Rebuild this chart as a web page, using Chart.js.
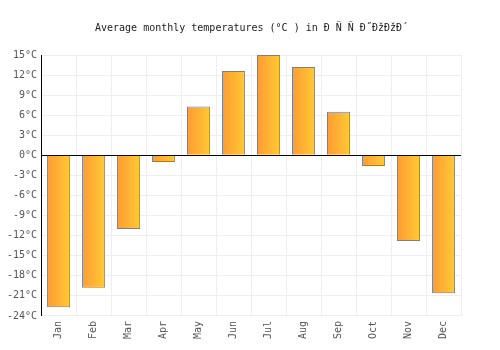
<!DOCTYPE html>
<html><head><meta charset="utf-8">
<script src="https://cdn.jsdelivr.net/npm/chart.js@4"></script>
<style>html,body{margin:0;padding:0;background:#fff}#wrap{width:500px;height:350px}</style>
</head><body><div id="wrap"><canvas id="c" width="500" height="350"></canvas></div>
<script>
const months = ["Jan","Feb","Mar","Apr","May","Jun","Jul","Aug","Sep","Oct","Nov","Dec"];
const temps = [-22.7,-19.8,-11.0,-1.0,7.3,12.6,15.0,13.2,6.5,-1.6,-12.8,-20.6];
const yMin = -24, yMax = 15, yStep = 3;
const titleText = "Average monthly temperatures (°C ) in Ð Ñ Ñ Ð˝ÐžÐžÐ´";
const BAR_PCT = 0.66;

function barGradient(ctx) {
  const chart = ctx.chart;
  const xs = chart.scales && chart.scales.x;
  if (!xs || ctx.dataIndex === undefined || !chart.chartArea) return '#ffb333';
  const cx = xs.getPixelForValue(ctx.dataIndex);
  const w = (xs.right - xs.left) / months.length * BAR_PCT;
  const g = chart.ctx.createLinearGradient(cx - w/2, 0, cx + w/2, 0);
  g.addColorStop(0, '#ff9b33');
  g.addColorStop(1, '#ffcb33');
  return g;
}

new Chart(document.getElementById('c'), {
  type: 'bar',
  data: { labels: months, datasets: [{
    data: temps,
    backgroundColor: barGradient,
    borderColor: '#808080',
    borderWidth: 1,
    barPercentage: BAR_PCT,
    categoryPercentage: 1.0
  }]},
  options: {
    responsive: false,
    animation: false,
    devicePixelRatio: 1,
    layout: { padding: { left: 3, right: 0, top: 4, bottom: 6 } },
    plugins: {
      legend: { display: false },
      tooltip: { enabled: false },
      title: { display: true, text: titleText, color: '#222',
        font: { family: 'DejaVu Sans Mono', size: 10, weight: 'normal' },
        padding: { top: 18, bottom: 21 } }
    },
    scales: {
      x: {
        grid: { color: '#eeeeee', drawTicks: false, offset: true },
        border: { display: false },
        ticks: { color: '#555', font: { family: 'DejaVu Sans Mono', size: 10 }, maxRotation: 90, minRotation: 90, padding: 5 }
      },
      y: {
        min: yMin, max: yMax,
        grid: { color: c => (c.tick && c.tick.value === 0) ? '#000' : '#eeeeee', drawTicks: false },
        border: { display: true, color: '#000', width: 1 },
        ticks: { stepSize: yStep, color: '#555', font: { family: 'DejaVu Sans Mono', size: 10 }, padding: 4,
          callback: v => v + '°C' }
      },
      yRight: {
        position: 'right',
        min: yMin, max: yMax,
        grid: { display: false, drawTicks: false },
        border: { display: false },
        ticks: { display: false },
        afterFit: s => { s.width = 39; }
      }
    }
  }
});
</script></body></html>
